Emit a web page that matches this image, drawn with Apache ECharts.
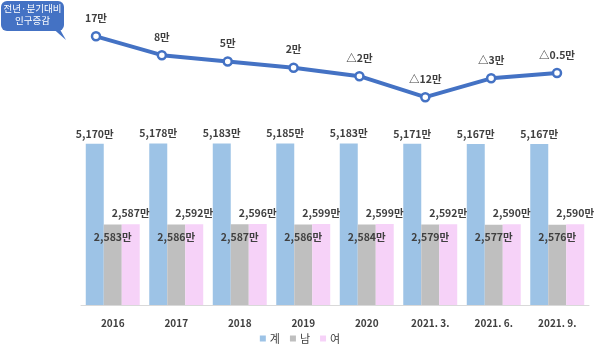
<!DOCTYPE html>
<html><head><meta charset="utf-8">
<script src="https://cdn.jsdelivr.net/npm/echarts@6/dist/echarts.min.js"></script>
<style>html,body{margin:0;padding:0;background:#fff}#c{width:600px;height:355px}</style>
</head><body><div id="c"></div>
<script>
const categories = ['2016','2017','2018','2019','2020','2021. 3.','2021. 6.','2021. 9.'];
const totalVals = [5170,5178,5183,5185,5183,5171,5167,5167];
const maleVals = [2583,2586,2587,2586,2584,2579,2577,2576];
const femaleVals = [2587,2592,2596,2599,2599,2592,2590,2590];
const changeVals = [17,8,5,2,-2,-12,-3,-0.5];
const seriesNames = ['계','남','여'];

const font = '"Noto Sans CJK KR", "Malgun Gothic", sans-serif';
const fmt = v => v.toLocaleString('en-US') + '만';
const lbl = {fontFamily: font, fontSize: 10.5, fontWeight: 'bold', color: '#404040'};

const chart = echarts.init(document.getElementById('c'));
chart.setOption({
  animation: false,
  textStyle: {fontFamily: font},
  grid: [
    {left: 81, right: 11, top: 118, bottom: 50},
    {left: 96, right: 43, top: 30, height: 84}
  ],
  xAxis: [
    {type: 'category', gridIndex: 0, data: categories,
     axisLine: {lineStyle: {color: '#d9d9d9'}}, axisTick: {show: false},
     axisLabel: {margin: 13, fontFamily: font, fontSize: 10, fontWeight: 'bold', color: '#404040'}},
    {type: 'category', gridIndex: 1, data: categories, boundaryGap: false, show: false}
  ],
  yAxis: [
    {type: 'value', gridIndex: 0, min: 0, max: 6000, show: false, splitLine: {show: false}},
    {type: 'value', gridIndex: 1, min: -20, max: 20, show: false, splitLine: {show: false}}
  ],
  legend: {
    bottom: 6, left: 'center', itemWidth: 6, itemHeight: 6, itemGap: 10,
    icon: 'rect', data: seriesNames,
    textStyle: {fontFamily: font, fontSize: 11, color: '#404040', padding: [0,0,0,-1]}
  },
  series: [
    {name: seriesNames[0], type: 'bar', xAxisIndex: 0, yAxisIndex: 0, data: totalVals,
     barGap: '0%', barCategoryGap: '15%', itemStyle: {color: '#9DC3E6'},
     label: Object.assign({show: true, position: 'top', distance: 5, formatter: p => fmt(p.value)}, lbl)},
    {name: seriesNames[1], type: 'bar', xAxisIndex: 0, yAxisIndex: 0, data: maleVals,
     itemStyle: {color: '#BFBFBF'},
     label: Object.assign({show: true, position: 'insideTop', distance: 7, formatter: p => fmt(p.value)}, lbl)},
    {name: seriesNames[2], type: 'bar', xAxisIndex: 0, yAxisIndex: 0, data: femaleVals,
     itemStyle: {color: '#F6D2F8'},
     label: Object.assign({show: true, position: 'top', distance: 6, formatter: p => fmt(p.value)}, lbl)},
    {name: '증감', type: 'line', xAxisIndex: 1, yAxisIndex: 1, data: changeVals,
     lineStyle: {color: '#4472C4', width: 4}, symbol: 'circle', symbolSize: 8,
     itemStyle: {color: '#fff', borderColor: '#4472C4', borderWidth: 2.5},
     label: Object.assign({show: true, position: 'top', distance: 8,
       formatter: p => (p.value < 0 ? '△' + Math.abs(p.value) : p.value) + '만'}, lbl)}
  ],
  graphic: [
    {type: 'polygon', shape: {points: [[50,26],[66,40],[58,26]]}, style: {fill: '#4472C4'}},
    {type: 'rect', shape: {x: 1, y: 1, width: 63, height: 30, r: 6}, style: {fill: '#4472C4'}},
    {type: 'text', x: 32.5, y: 4, style: {text: '전년·분기대비', fill: '#fff',
      font: '9.5px ' + font, align: 'center', textAlign: 'center', verticalAlign: 'top'}},
    {type: 'text', x: 32.5, y: 16, style: {text: '인구증감', fill: '#fff',
      font: '9.5px ' + font, align: 'center', textAlign: 'center', verticalAlign: 'top'}}
  ]
});
</script></body></html>
